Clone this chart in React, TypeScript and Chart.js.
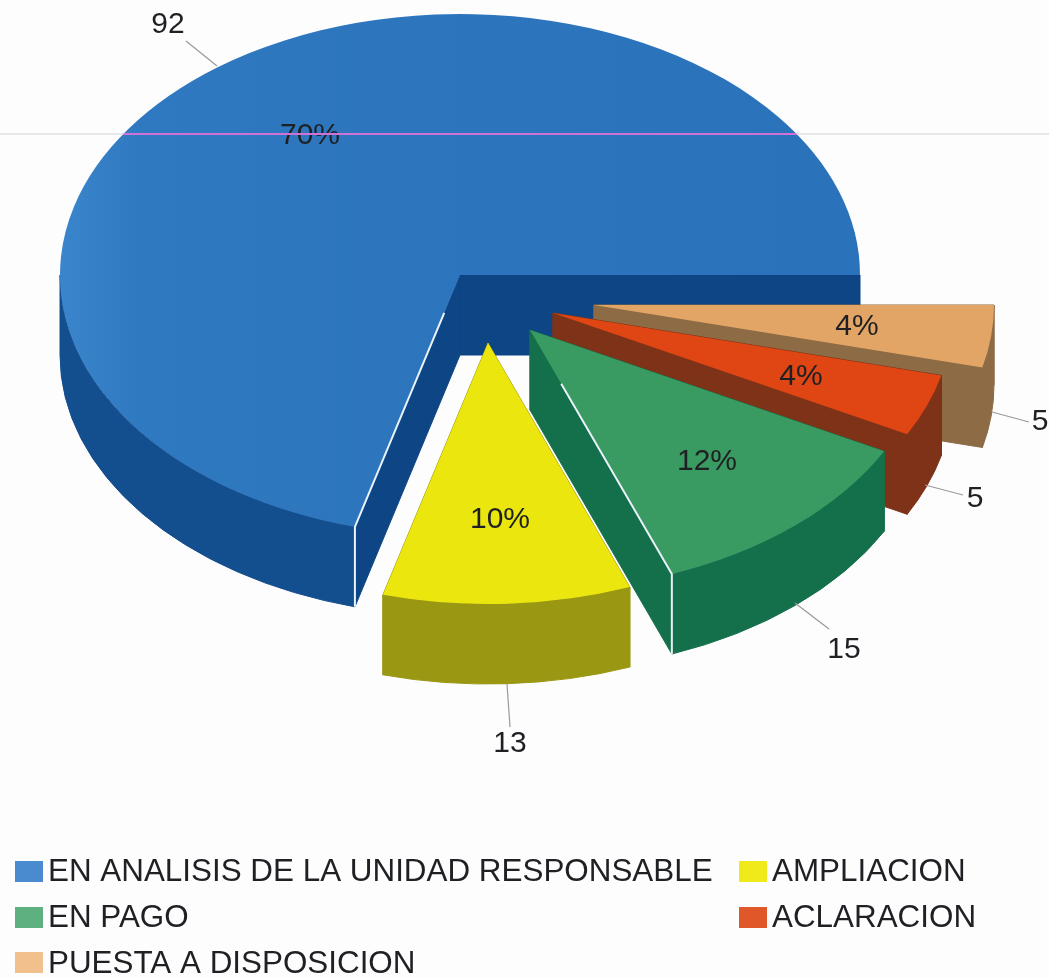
import React, { useEffect, useRef } from "react";
import { Chart, registerables } from "chart.js";

Chart.register(...registerables);

// ---- data (legend order) ----
const categories = [
  "EN ANALISIS DE LA UNIDAD RESPONSABLE",
  "AMPLIACION",
  "EN PAGO",
  "ACLARACION",
  "PUESTA A DISPOSICION",
];
const values = [92, 13, 15, 5, 5];
const percentLabels = ["70%", "10%", "12%", "4%", "4%"];

// ---- styles ----
const topColors = ["#2A72BA", "#EAE60E", "#399A62", "#DF4614", "#E3A566"];
const wallColors = ["#134E8E", "#9A9712", "#14704A", "#7E3318", "#8C6B45"];
const faceColors = ["#0D4585", "#9A9712", "#14704A", "#7E3318", "#8C6B45"];
const legendColors = ["#4A8BD0", "#F0EA1A", "#5FB080", "#E0582A", "#F2C08C"];

// layout constants (pixels)
const W = 1049;
const H = 978;
const FONT = '"Liberation Sans", Arial, sans-serif';
const BASE_APEX = { x: 460, y: 275 };
const RX = 400;
const RY = 261;
const DEPTH = 80;
const sliceShift = [
  { x: 0, y: 0 },
  { x: 28, y: 68 },
  { x: 70, y: 55 },
  { x: 93, y: 38 },
  { x: 134, y: 30 },
];
// white highlight: which cut edge of a slice carries it, and how far it runs towards the apex
const edgeHighlight: Array<{ edge: "startAngle" | "endAngle"; run: number } | null> = [
  { edge: "startAngle", run: 0.85 },
  null,
  { edge: "endAngle", run: 0.78 },
  null,
  null,
];
const percentPos = [
  { x: 310, y: 136 },
  { x: 500, y: 520 },
  { x: 707, y: 462 },
  { x: 801, y: 377 },
  { x: 857, y: 327 },
];
const valuePos = [
  { x: 168, y: 25 },
  { x: 510, y: 744 },
  { x: 844, y: 650 },
  { x: 975, y: 499 },
  { x: 1040, y: 422 },
];
const leaders = [
  [186, 41, 217, 66],
  [507, 684, 510, 727],
  [795, 603, 829, 629],
  [925, 485, 963, 495],
  [992, 412, 1029, 422],
];
const legendPos = [
  { x: 15, y: 861, tx: 48, base: 881 },
  { x: 739, y: 861, tx: 772, base: 881 },
  { x: 15, y: 907, tx: 48, base: 927 },
  { x: 739, y: 907, tx: 772, base: 927 },
  { x: 15, y: 952, tx: 48, base: 973 },
];

const pseudo3d = {
  id: "pseudo3d",
  beforeDraw(chart: any) {
    const ctx = chart.ctx;
    ctx.save();
    ctx.fillStyle = "#FDFDFE";
    ctx.fillRect(0, 0, W, H);
    ctx.restore();
  },
  beforeDatasetsDraw(chart: any) {
    const ctx: CanvasRenderingContext2D = chart.ctx;
    const arcs = chart.getDatasetMeta(0).data;
    const n = categories.length;
    // chart data is reversed legend order; paint the big slice first, then back to front
    const drawOrder = [0, 4, 3, 2, 1];
    for (const li of drawOrder) {
      const arc = arcs[n - 1 - li];
      const props = arc.getProps(["x", "y", "startAngle", "endAngle", "outerRadius"], true);
      const { x, y, startAngle, endAngle, outerRadius } = props;
      const ax = BASE_APEX.x + sliceShift[li].x;
      const ay = BASE_APEX.y + sliceShift[li].y;
      const px = (a: number) => ax + RX * Math.cos(a);
      const py = (a: number) => ay + RY * Math.sin(a);

      // radial cut faces
      ctx.save();
      ctx.lineWidth = 1;
      ctx.lineJoin = "round";
      ctx.fillStyle = faceColors[li];
      ctx.strokeStyle = faceColors[li];
      for (const a of [startAngle, endAngle]) {
        ctx.beginPath();
        ctx.moveTo(ax, ay);
        ctx.lineTo(px(a), py(a));
        ctx.lineTo(px(a), py(a) + DEPTH);
        ctx.lineTo(ax, ay + DEPTH);
        ctx.closePath();
        ctx.fill();
        ctx.stroke();
      }
      // outer wall (front-facing part only)
      const from = Math.max(startAngle, 0);
      const to = Math.min(endAngle, Math.PI);
      if (to > from) {
        ctx.fillStyle = wallColors[li];
        ctx.strokeStyle = wallColors[li];
        ctx.beginPath();
        ctx.ellipse(ax, ay, RX, RY, 0, from, to, false);
        ctx.ellipse(ax, ay + DEPTH, RX, RY, 0, to, from, true);
        ctx.closePath();
        ctx.fill();
        ctx.stroke();
      }
      ctx.restore();

      // top surface: the library's own arc, squashed into place
      ctx.save();
      ctx.translate(ax, ay);
      ctx.scale(RX / outerRadius, RY / outerRadius);
      ctx.translate(-x, -y);
      arc.draw(ctx);
      ctx.restore();

      // white highlights along the near edge
      const hl = edgeHighlight[li];
      if (hl) {
        const a = props[hl.edge];
        const ex = px(a);
        const ey = py(a);
        ctx.save();
        ctx.strokeStyle = "#EAF3FA";
        ctx.lineWidth = 2;
        ctx.beginPath();
        ctx.moveTo(ex + (ax - ex) * hl.run, ey + (ay - ey) * hl.run);
        ctx.lineTo(ex, ey);
        ctx.lineTo(ex, ey + DEPTH);
        ctx.stroke();
        ctx.restore();
      }
    }
    return false;
  },
  afterDraw(chart: any) {
    const ctx: CanvasRenderingContext2D = chart.ctx;
    ctx.save();
    ctx.textBaseline = "middle";
    ctx.textAlign = "center";
    ctx.font = `30px ${FONT}`;
    ctx.fillStyle = "#1E2024";
    categories.forEach((_, i) => {
      ctx.fillText(percentLabels[i], percentPos[i].x, percentPos[i].y);
      ctx.fillText(String(values[i]), valuePos[i].x, valuePos[i].y);
    });
    // leader lines
    ctx.strokeStyle = "#9A9A9A";
    ctx.lineWidth = 1.2;
    leaders.forEach(([x1, y1, x2, y2]) => {
      ctx.beginPath();
      ctx.moveTo(x1, y1);
      ctx.lineTo(x2, y2);
      ctx.stroke();
    });
    // horizontal scan streak
    const sy = 134;
    const half = RX * Math.sqrt(1 - Math.pow((sy - BASE_APEX.y) / RY, 2));
    ctx.lineWidth = 1.5;
    ctx.strokeStyle = "#E2DFE2";
    ctx.beginPath();
    ctx.moveTo(0, sy);
    ctx.lineTo(W, sy);
    ctx.stroke();
    ctx.lineWidth = 2;
    ctx.strokeStyle = "#CF72D6";
    ctx.beginPath();
    ctx.moveTo(BASE_APEX.x - half, sy);
    ctx.lineTo(BASE_APEX.x + half, sy);
    ctx.stroke();
    // legend
    ctx.textAlign = "left";
    ctx.textBaseline = "alphabetic";
    ctx.font = `31.4px ${FONT}`;
    categories.forEach((c, i) => {
      const p = legendPos[i];
      ctx.fillStyle = legendColors[i];
      ctx.fillRect(p.x, p.y, 28, 21);
      ctx.fillStyle = "#1E2024";
      ctx.fillText(c, p.tx, p.base);
    });
    ctx.restore();
  },
};

export default function App() {
  const ref = useRef<HTMLCanvasElement>(null);
  useEffect(() => {
    if (!ref.current) return;
    const chart = new Chart(ref.current, {
      type: "pie",
      data: {
        labels: [...categories].reverse(),
        datasets: [
          {
            data: [...values].reverse(),
            backgroundColor: (c: any) => {
              const li = categories.length - 1 - c.dataIndex;
              if (li !== 0) return topColors[li];
              const g = c.chart.ctx.createLinearGradient(60, 0, 860, 0);
              g.addColorStop(0, "#3B85CC");
              g.addColorStop(0.1, "#2F79C1");
              g.addColorStop(0.4, "#2D76BE");
              g.addColorStop(1, topColors[0]);
              return g;
            },
            borderWidth: 0,
          },
        ],
      },
      options: {
        responsive: false,
        animation: false,
        rotation: 90,
        layout: { padding: { left: 60, right: 189, top: 0, bottom: 178 } },
        plugins: { legend: { display: false }, tooltip: { enabled: false } },
      },
      plugins: [pseudo3d],
    } as any);
    return () => chart.destroy();
  }, []);
  return (
    <canvas
      ref={ref}
      width={W}
      height={H}
      style={{ position: "absolute", left: 0, top: 0, width: W, height: H, display: "block" }}
    />
  );
}
